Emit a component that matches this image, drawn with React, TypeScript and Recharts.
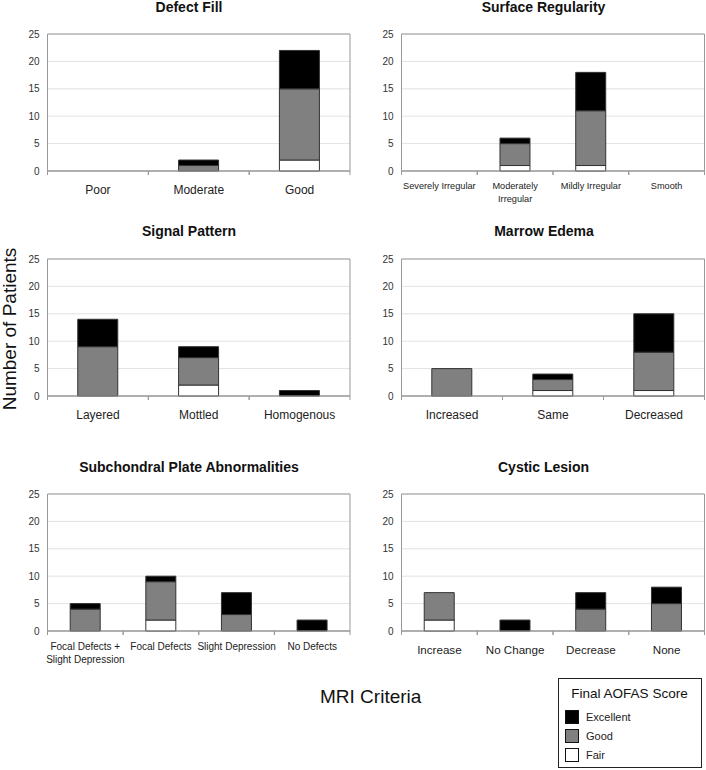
import { BarChart, Bar, XAxis, YAxis, CartesianGrid, ReferenceArea } from "recharts";

const FONT = "'Liberation Sans', Arial, sans-serif";

// stacking order: bottom -> top
const seriesKeys = ["fair", "good", "excellent"];
const seriesNames = ["Fair", "Good", "Excellent"];
const seriesColors = ["#ffffff", "#808080", "#000000"];

const yTicks = [0, 5, 10, 15, 20, 25];

const defectCats = ["Poor", "Moderate", "Good"];
const defectFair = [0, 0, 2];
const defectGood = [0, 1, 13];
const defectExcellent = [0, 1, 7];

const surfaceCats = ["Severely Irregular", "Moderately\nIrregular", "Mildly Irregular", "Smooth"];
const surfaceFair = [0, 1, 1, 0];
const surfaceGood = [0, 4, 10, 0];
const surfaceExcellent = [0, 1, 7, 0];

const signalCats = ["Layered", "Mottled", "Homogenous"];
const signalFair = [0, 2, 0];
const signalGood = [9, 5, 0];
const signalExcellent = [5, 2, 1];

const marrowCats = ["Increased", "Same", "Decreased"];
const marrowFair = [0, 1, 1];
const marrowGood = [5, 2, 7];
const marrowExcellent = [0, 1, 7];

const plateCats = ["Focal Defects +\nSlight Depression", "Focal Defects", "Slight Depression", "No Defects"];
const plateFair = [0, 2, 0, 0];
const plateGood = [4, 7, 3, 0];
const plateExcellent = [1, 1, 4, 2];

const cysticCats = ["Increase", "No Change", "Decrease", "None"];
const cysticFair = [2, 0, 0, 0];
const cysticGood = [5, 0, 4, 5];
const cysticExcellent = [0, 2, 3, 3];

const CatTick = ({ x, y, payload, fontSize, firstOffset, lineGap }: any) => {
  const lines = String(payload.value).split("\n");
  const half = payload.offset || 0;
  return (
    <g>
      {half > 0 && (
        <>
          <line x1={x - half} x2={x - half} y1={y} y2={y + 4} stroke="#999" />
          <line x1={x + half} x2={x + half} y1={y} y2={y + 4} stroke="#999" />
        </>
      )}
      <text x={x} y={y + firstOffset} textAnchor="middle" fontSize={fontSize} fill="#222" fontFamily={FONT}>
        {lines.map((l, i) => (
          <tspan key={i} x={x} dy={i === 0 ? 0 : lineGap}>
            {l}
          </tspan>
        ))}
      </text>
    </g>
  );
};

function Panel({ title, cats, fair, good, excellent, left, top, plotLeft, plotRight, titleCenter, titleTop, fontSize, firstOffset, lineGap }: any) {
  const data = cats.map((c: string, i: number) => ({ cat: c, fair: fair[i], good: good[i], excellent: excellent[i] }));
  return (
    <>
      <div
        style={{
          position: "absolute",
          left: left + titleCenter - 175,
          width: 350,
          top: top + titleTop,
          textAlign: "center",
          fontFamily: FONT,
          fontWeight: "bold",
          fontSize: 14,
          lineHeight: "16px",
          color: "#111",
        }}
      >
        {title}
      </div>
      <div style={{ position: "absolute", left, top }}>
        <BarChart
          width={353}
          height={215}
          data={data}
          margin={{ top: 34, right: 353 - plotRight, left: plotLeft - 30, bottom: 0 }}
          barCategoryGap="30%"
        >
          <CartesianGrid vertical={false} stroke="#e2e2e2" />
          <XAxis
            dataKey="cat"
            height={44}
            interval={0}
            axisLine={{ stroke: "#999" }}
            tickLine={false}
            tickSize={0}
            tickMargin={0}
            tick={<CatTick fontSize={fontSize} firstOffset={firstOffset} lineGap={lineGap} />}
          />
          <YAxis
            width={30}
            domain={[0, 25]}
            ticks={yTicks}
            axisLine={{ stroke: "#999" }}
            tickLine={false}
            tickSize={0}
            tickMargin={8}
            tick={{ fontSize: 10, fill: "#333", fontFamily: FONT }}
          />
          <ReferenceArea y1={0} y2={25} fill="none" stroke="#999" strokeWidth={1} />
          {seriesKeys.map((k, i) => (
            <Bar
              key={k}
              dataKey={k}
              stackId="s"
              fill={seriesColors[i]}
              stroke="#333"
              strokeWidth={1}
              isAnimationActive={false}
            />
          ))}
        </BarChart>
      </div>
    </>
  );
}

export default function App() {
  const legendOrder = [2, 1, 0];
  return (
    <div style={{ position: "absolute", left: 0, top: 0, width: 706, height: 770, background: "#fff", fontFamily: FONT }}>
      <Panel title="Defect Fill" cats={defectCats} fair={defectFair} good={defectGood} excellent={defectExcellent}
        left={0} top={0} plotLeft={47.5} plotRight={350} titleCenter={189} titleTop={-1} fontSize={12} firstOffset={23} lineGap={13} />
      <Panel title="Surface Regularity" cats={surfaceCats} fair={surfaceFair} good={surfaceGood} excellent={surfaceExcellent}
        left={353} top={0} plotLeft={48.5} plotRight={351.5} titleCenter={190.5} titleTop={-1} fontSize={9.2} firstOffset={18} lineGap={13} />
      <Panel title="Signal Pattern" cats={signalCats} fair={signalFair} good={signalGood} excellent={signalExcellent}
        left={0} top={225} plotLeft={47.5} plotRight={350} titleCenter={189} titleTop={-2} fontSize={12} firstOffset={23} lineGap={13} />
      <Panel title="Marrow Edema" cats={marrowCats} fair={marrowFair} good={marrowGood} excellent={marrowExcellent}
        left={353} top={225} plotLeft={48.5} plotRight={351.5} titleCenter={191} titleTop={-2} fontSize={12} firstOffset={23} lineGap={13} />
      <Panel title="Subchondral Plate Abnormalities" cats={plateCats} fair={plateFair} good={plateGood} excellent={plateExcellent}
        left={0} top={460} plotLeft={47.5} plotRight={350} titleCenter={189} titleTop={-1.5} fontSize={10} firstOffset={19} lineGap={13} />
      <Panel title="Cystic Lesion" cats={cysticCats} fair={cysticFair} good={cysticGood} excellent={cysticExcellent}
        left={353} top={460} plotLeft={48.5} plotRight={351.5} titleCenter={190.5} titleTop={-1.5} fontSize={11.6} firstOffset={23} lineGap={13} />

      <div
        style={{
          position: "absolute",
          left: 10 - 100,
          top: 329 - 12,
          width: 200,
          height: 24,
          lineHeight: "24px",
          textAlign: "center",
          fontSize: 19,
          color: "#111",
          transform: "rotate(-90deg)",
          whiteSpace: "nowrap",
        }}
      >
        Number of Patients
      </div>
      <div style={{ position: "absolute", left: 320, top: 697 - 12, height: 24, lineHeight: "24px", fontSize: 19, color: "#111", whiteSpace: "nowrap" }}>
        MRI Criteria
      </div>

      <div
        style={{
          position: "absolute",
          left: 558,
          top: 678,
          width: 144,
          height: 90,
          boxSizing: "border-box",
          border: "1.5px solid #222",
          background: "#fff",
        }}
      >
        <div style={{ position: "absolute", left: 0, width: 141, top: 6, textAlign: "center", fontSize: 13.5, lineHeight: "17px", color: "#111", whiteSpace: "nowrap" }}>
          Final AOFAS Score
        </div>
        {legendOrder.map((si, row) => (
          <div key={si}>
            <div
              style={{
                position: "absolute",
                left: 6,
                top: 31 + row * 19,
                width: 14,
                height: 14,
                boxSizing: "border-box",
                border: "1px solid #111",
                background: seriesColors[si],
              }}
            />
            <div style={{ position: "absolute", left: 27, top: 30 + row * 19, fontSize: 11, lineHeight: "16px", color: "#222" }}>
              {seriesNames[si]}
            </div>
          </div>
        ))}
      </div>
    </div>
  );
}
